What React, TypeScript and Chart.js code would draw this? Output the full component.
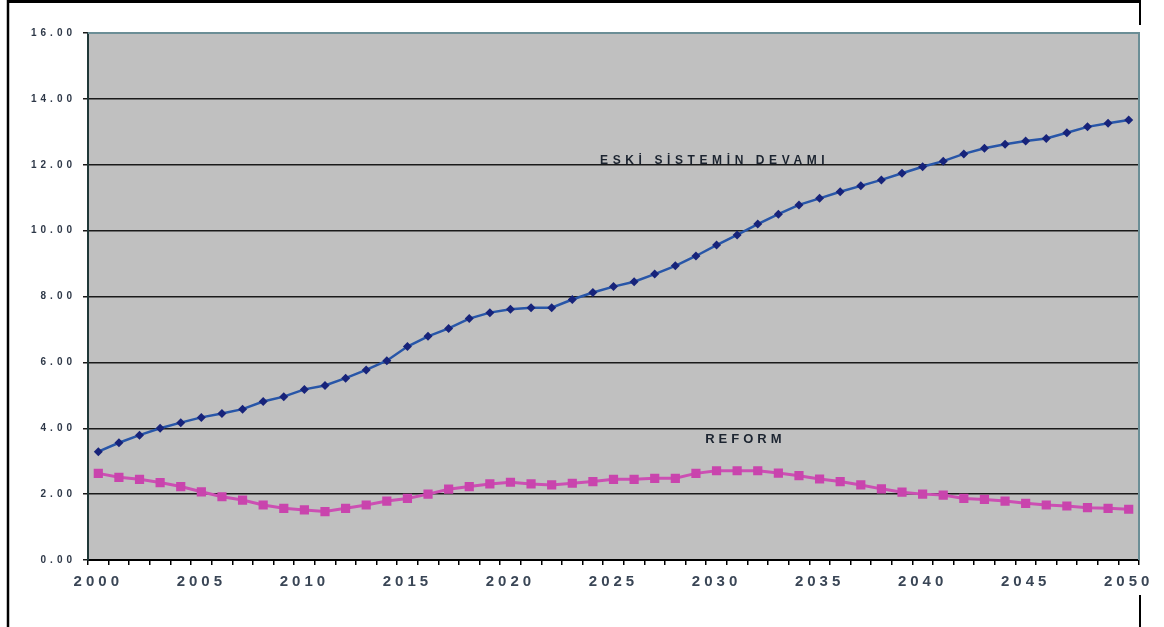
import React, { useEffect, useRef } from "react";
import { Chart, registerables } from "chart.js";

Chart.register(...registerables);

const years = [
  "2000", "2001", "2002", "2003", "2004", "2005", "2006", "2007", "2008", "2009",
  "2010", "2011", "2012", "2013", "2014", "2015", "2016", "2017", "2018", "2019",
  "2020", "2021", "2022", "2023", "2024", "2025", "2026", "2027", "2028", "2029",
  "2030", "2031", "2032", "2033", "2034", "2035", "2036", "2037", "2038", "2039",
  "2040", "2041", "2042", "2043", "2044", "2045", "2046", "2047", "2048", "2049",
  "2050",
];

const eskiSistem = [
  3.29, 3.56, 3.79, 4.0, 4.17, 4.33, 4.45, 4.58, 4.81, 4.96,
  5.18, 5.3, 5.52, 5.77, 6.05, 6.48, 6.79, 7.03, 7.33, 7.51,
  7.61, 7.66, 7.66, 7.91, 8.12, 8.3, 8.45, 8.68, 8.93, 9.23,
  9.56, 9.87, 10.2, 10.5, 10.78, 10.98, 11.18, 11.36, 11.54, 11.74,
  11.94, 12.11, 12.33, 12.5, 12.62, 12.72, 12.8, 12.97, 13.15, 13.26,
  13.36,
];

const reform = [
  2.63, 2.51, 2.45, 2.35, 2.23, 2.07, 1.92, 1.82, 1.67, 1.57,
  1.52, 1.47, 1.57, 1.67, 1.79, 1.87, 2.0, 2.15, 2.23, 2.31,
  2.36, 2.31, 2.28, 2.33, 2.38, 2.45, 2.45, 2.48, 2.48, 2.63,
  2.71, 2.71, 2.71, 2.64, 2.56, 2.46, 2.38, 2.28, 2.16, 2.06,
  2.0, 1.97, 1.87, 1.84, 1.79, 1.72, 1.67, 1.64, 1.59, 1.57,
  1.54,
];

const xTickLabels = ["2000", "2005", "2010", "2015", "2020", "2025", "2030", "2035", "2040", "2045", "2050"];

const seriesLabels = ["ESKİ SİSTEMİN DEVAMI", "REFORM"];

const Y_MIN = 0;
const Y_MAX = 16;
const Y_STEP = 2;

// annotation anchors: category index (fractional) and value
const labelAnchors = [
  { index: 24.35, value: 12.03, size: 12, spacing: "4.6px" },
  { index: 29.45, value: 3.55, size: 13, spacing: "4px" },
];

const FONT = "'Liberation Sans', Arial, sans-serif";

const framePlugin = {
  id: "framePlugin",
  beforeDraw(chart: any) {
    const ctx = chart.ctx;
    const { width, height } = chart;
    const ca = chart.chartArea;
    ctx.save();
    ctx.fillStyle = "#ffffff";
    ctx.fillRect(0, 0, width, height);
    // outer scanned frame
    ctx.strokeStyle = "#000000";
    ctx.lineWidth = 3;
    ctx.beginPath();
    ctx.moveTo(8, 1.5);
    ctx.lineTo(1141, 1.5);
    ctx.stroke();
    ctx.lineWidth = 2.5;
    ctx.beginPath();
    ctx.moveTo(8, 0);
    ctx.lineTo(8, height);
    ctx.stroke();
    ctx.lineWidth = 2;
    ctx.beginPath();
    ctx.moveTo(1140, 0);
    ctx.lineTo(1140, 25);
    ctx.moveTo(1140, 595);
    ctx.lineTo(1140, height);
    ctx.stroke();
    // plot background
    ctx.fillStyle = "#c0c0c0";
    ctx.fillRect(ca.left, ca.top, ca.right - ca.left, ca.bottom - ca.top);
    ctx.restore();
    ctx.letterSpacing = "4px";
  },
  beforeDatasetsDraw(chart: any) {
    const ctx = chart.ctx;
    const ca = chart.chartArea;
    ctx.save();
    ctx.strokeStyle = "#6b8e96";
    ctx.lineWidth = 2;
    ctx.beginPath();
    ctx.moveTo(ca.left, ca.top);
    ctx.lineTo(ca.right, ca.top);
    ctx.lineTo(ca.right, ca.bottom);
    ctx.stroke();
    ctx.restore();
  },
  afterDatasetsDraw(chart: any) {
    const ctx = chart.ctx;
    const xs = chart.scales.x;
    const ys = chart.scales.y;
    ctx.save();
    ctx.fillStyle = "#1c2430";
    ctx.textAlign = "left";
    ctx.textBaseline = "alphabetic";
    labelAnchors.forEach((a, i) => {
      ctx.letterSpacing = a.spacing;
      ctx.font = `bold ${a.size}px ${FONT}`;
      ctx.fillText(seriesLabels[i], xs.getPixelForValue(a.index), ys.getPixelForValue(a.value));
    });
    ctx.restore();
  },
  afterDraw(chart: any) {
    chart.ctx.letterSpacing = "0px";
  },
};

export default function App() {
  const ref = useRef<HTMLCanvasElement | null>(null);

  useEffect(() => {
    if (!ref.current) return;
    const chart = new Chart(ref.current, {
      type: "line",
      data: {
        labels: years,
        datasets: [
          {
            label: seriesLabels[0],
            data: eskiSistem,
            borderColor: "#2856a8",
            borderWidth: 2.5,
            pointStyle: "rectRot",
            pointRadius: 4.5,
            pointBackgroundColor: "#17237a",
            pointBorderColor: "#17237a",
            pointBorderWidth: 0,
            tension: 0,
          },
          {
            label: seriesLabels[1],
            data: reform,
            borderColor: "#cc4fb3",
            borderWidth: 3,
            pointStyle: "rect",
            pointRadius: 6.5,
            pointBackgroundColor: "#c944ad",
            pointBorderColor: "#c944ad",
            pointBorderWidth: 0,
            tension: 0,
          },
        ],
      },
      options: {
        responsive: false,
        animation: false,
        devicePixelRatio: 1,
        layout: { padding: { top: 33, right: 25, bottom: 27, left: 0 } },
        plugins: {
          legend: { display: false },
          tooltip: { enabled: false },
        },
        scales: {
          x: {
            type: "category",
            offset: true,
            afterFit: (s: any) => {
              s.height = 40;
            },
            border: { display: true, color: "#000000", width: 2 },
            grid: {
              display: true,
              drawOnChartArea: false,
              drawTicks: true,
              tickLength: 5,
              offset: true,
              color: "#000000",
              lineWidth: 1.5,
            },
            ticks: {
              autoSkip: false,
              maxRotation: 0,
              minRotation: 0,
              padding: 8,
              color: "#3a4656",
              font: { family: FONT, size: 15, weight: "bold" },
              callback: (_v: any, i: number) => (xTickLabels.includes(years[i]) ? years[i] : ""),
            },
          },
          y: {
            min: Y_MIN,
            max: Y_MAX,
            afterFit: (s: any) => {
              s.width = 88;
            },
            border: { display: true, color: "#203838", width: 2 },
            grid: {
              color: (c: any) => (c.tick && c.tick.value === Y_MAX ? "#6b8e96" : "#1a1a1a"),
              tickColor: "#1a1a1a",
              lineWidth: 1.5,
              tickLength: 5,
            },
            ticks: {
              stepSize: Y_STEP,
              padding: 7,
              color: "#2e3848",
              font: { family: FONT, size: 10, weight: "bold" },
              callback: (v: any) => Number(v).toFixed(2),
            },
          },
        },
      },
      plugins: [framePlugin],
    });
    return () => chart.destroy();
  }, []);

  return (
    <canvas
      ref={ref}
      width={1164}
      height={627}
      style={{ position: "absolute", left: 0, top: 0, display: "block" }}
    />
  );
}
